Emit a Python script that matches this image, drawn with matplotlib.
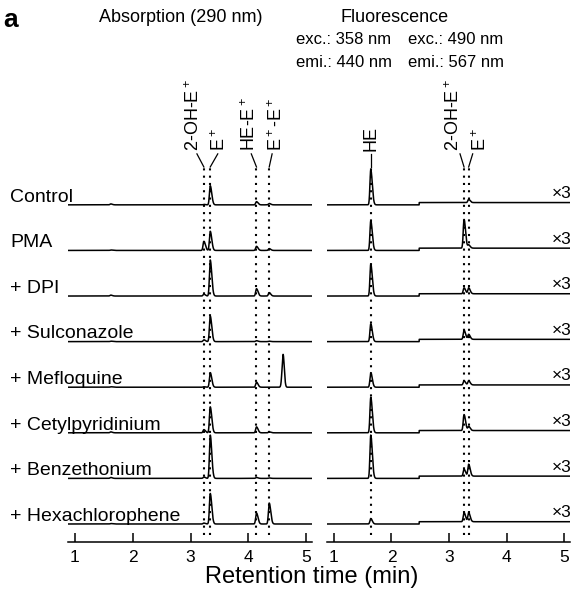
import numpy as np
import matplotlib
matplotlib.use("Agg")
import matplotlib.pyplot as plt
from matplotlib.transforms import blended_transform_factory

plt.rcParams['font.family'] = 'Liberation Sans'
plt.rcParams['mathtext.fontset'] = 'custom'
plt.rcParams['mathtext.rm'] = 'Liberation Sans'
plt.rcParams['mathtext.it'] = 'Liberation Sans:italic'
plt.rcParams['mathtext.bf'] = 'Liberation Sans:bold'

# Samples, top to bottom
samples = ["Control", "PMA", "+ DPI", "+ Sulconazole", "+ Mefloquine",
           "+ Cetylpyridinium", "+ Benzethonium", "+ Hexachlorophene"]

# Absorption (290 nm): peak retention times (min) and heights per sample
abs_rt = [1.62, 3.23, 3.34, 4.14, 4.36]
abs_height = [
    [0.02, 0.01, 0.42, 0.07, 0.03],
    [0.01, 0.20, 0.42, 0.09, 0.04],
    [0.02, 0.04, 0.79, 0.16, 0.075],
    [0.01, 0.04, 0.56, 0.02, 0.01],
    [0.01, 0.01, 0.32, 0.11, 0.0],
    [0.02, 0.07, 0.57, 0.13, 0.02],
    [0.02, 0.03, 0.95, 0.02, 0.01],
    [0.01, 0.02, 0.67, 0.24, 0.46],
]
# extra mefloquine peak
mef_rt = 4.60
mef_height = 0.72

# Fluorescence: HE (358/440), 2-OH-E+ and E+ (490/567, x3)
fl_rt = [1.64, 3.26, 3.34]
fl_height = [
    [0.77, 0.00, 0.07],
    [0.65, 0.63, 0.07],
    [0.70, 0.13, 0.13],
    [0.39, 0.20, 0.11],
    [0.32, 0.09, 0.09],
    [0.78, 0.35, 0.09],
    [0.95, 0.15, 0.26],
    [0.12, 0.20, 0.20],
]
channel_switch = 2.48
channel_step = 0.05

# Peak annotations: (label, peak rt, connector top rt, label rt)
abs_labels = [("2-OH-E$^+$", 3.23, 3.11, 3.06), ("E$^+$", 3.34, 3.47, 3.50),
              ("HE-E$^+$", 4.14, 4.05, 4.02), ("E$^+$-E$^+$", 4.36, 4.41, 4.48)]
fl_labels = [("HE", 1.64, 1.64, 1.64), ("2-OH-E$^+$", 3.26, 3.19, 3.08),
             ("E$^+$", 3.34, 3.41, 3.54)]

xticks = [1, 2, 3, 4, 5]
xlim = (0.88, 5.10)


def peak(x, rt, h, sl=0.014, sr=0.026):
    s = np.where(x < rt, sl, sr)
    return h * np.exp(-0.5 * ((x - rt) / s) ** 2)


x = np.linspace(xlim[0], xlim[1], 4000)
n = len(samples)

fig = plt.figure(figsize=(5.76, 5.94), dpi=100)
W, H = 576.0, 594.0
bottom = 1 - 542 / H
height = (542 - 167) / H
ax_abs = fig.add_axes([68 / W, bottom, (312 - 68) / W, height])
ax_fl = fig.add_axes([327 / W, bottom, (570 - 327) / W, height])

for ax in (ax_abs, ax_fl):
    ax.set_xlim(*xlim)
    ax.set_ylim(-0.395, 7.83)
    for s in ("left", "right", "top"):
        ax.spines[s].set_visible(False)
    ax.spines["bottom"].set_linewidth(1.1)
    ax.set_yticks([])
    ax.set_xticks(xticks)
    ax.tick_params(axis="x", direction="in", length=6.5, width=1.1,
                   labelsize=12.5, pad=6)
    ax.patch.set_alpha(0)

# absorption traces
for i, name in enumerate(samples):
    off = n - 1 - i
    y = np.zeros_like(x)
    for rt, h in zip(abs_rt, abs_height[i]):
        y += peak(x, rt, h)
    if name == "+ Mefloquine":
        y += peak(x, mef_rt, mef_height, 0.018, 0.02)
    ax_abs.plot(x, y + off, color="black", lw=1.1)
    ax_abs.text(10 / W, off + 0.07, name, fontsize=14, va="baseline", ha="left",
                transform=blended_transform_factory(fig.transFigure, ax_abs.transData))

# fluorescence traces
for i, name in enumerate(samples):
    off = n - 1 - i
    y = np.where(x > channel_switch, channel_step, 0.0)
    for rt, h in zip(fl_rt, fl_height[i]):
        y = y + peak(x, rt, h)
    ax_fl.plot(x, y + off, color="black", lw=1.1)
    ax_fl.text(572 / W, off + 0.15, "\u00d73", fontsize=12.5, va="baseline", ha="right",
               transform=blended_transform_factory(fig.transFigure, ax_fl.transData))

# dotted guides, connectors and rotated labels
for ax, labels in ((ax_abs, abs_labels), (ax_fl, fl_labels)):
    tr = blended_transform_factory(ax.transData, ax.transAxes)
    for text, rt, top, lx in labels:
        ax.plot([rt, rt], [0.02, 1.0], transform=tr, color="black", lw=1.5,
                linestyle=(0, (1, 2.5)), clip_on=False)
        ax.plot([rt, top], [1.0, 1.035], transform=tr, color="black", lw=0.9,
                clip_on=False)
        ax.text(lx, 1.043, text, rotation=90, ha="center", va="bottom",
                fontsize=13, transform=tr, clip_on=False)

# figure texts
fig.text(3 / W, 1 - 27 / H, "a", fontsize=19, fontweight="bold", va="baseline")
fig.text(181 / W, 1 - 22 / H, "Absorption (290 nm)", fontsize=13, ha="center", va="baseline")
fig.text(395 / W, 1 - 22 / H, "Fluorescence", fontsize=13, ha="center", va="baseline")
fig.text(344 / W, 1 - 44 / H, "exc.: 358 nm", fontsize=12, ha="center", va="baseline")
fig.text(456 / W, 1 - 44 / H, "exc.: 490 nm", fontsize=12, ha="center", va="baseline")
fig.text(344 / W, 1 - 67 / H, "emi.: 440 nm", fontsize=12, ha="center", va="baseline")
fig.text(456 / W, 1 - 67 / H, "emi.: 567 nm", fontsize=12, ha="center", va="baseline")
fig.text(312 / W, 1 - 577 / H, "Retention time (min)", fontsize=17, ha="center", va="center")

fig.savefig("out.png", dpi=100)
